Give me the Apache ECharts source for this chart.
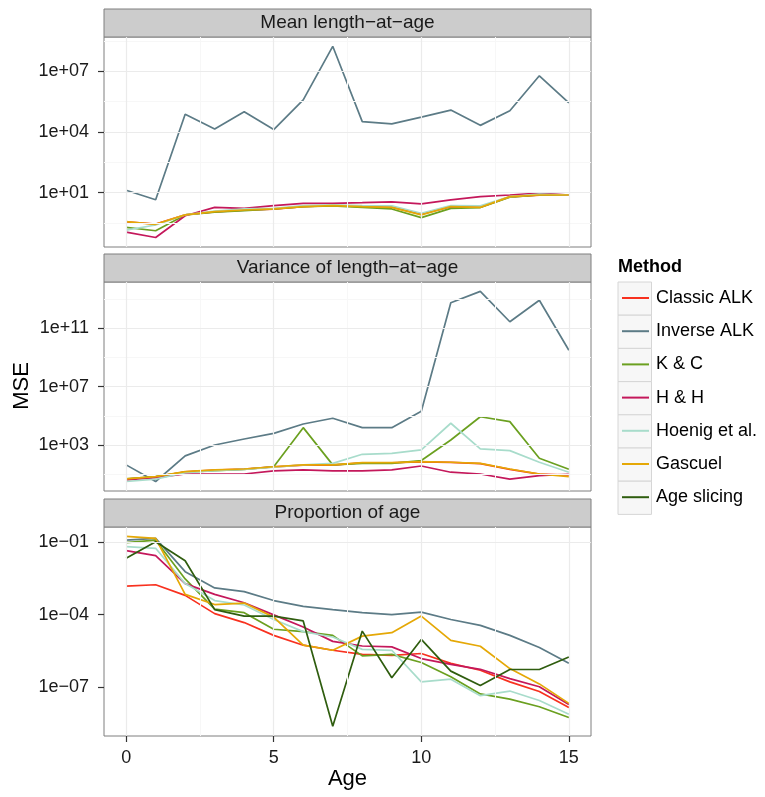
<!DOCTYPE html>
<html>
<head>
<meta charset="utf-8">
<script src="https://cdn.jsdelivr.net/npm/echarts@6/dist/echarts.min.js"></script>
<style>
  html, body { margin: 0; padding: 0; background: #fff; }
  #chart { width: 765px; height: 797px; }
</style>
</head>
<body>
<div id="chart"></div>
<script>
// ages on the x axis
var ages = [0, 1, 2, 3, 4, 5, 6, 7, 8, 9, 10, 11, 12, 13, 14, 15];
var methods = ["Classic ALK", "Inverse ALK", "K & C", "H & H", "Hoenig et al.", "Gascuel", "Age slicing"];
var colors = ["#F8311F", "#5C7B86", "#6BA020", "#C4185B", "#A8DCCB", "#E5A806", "#2F5D0F"];
var panels = ["Mean length\u2212at\u2212age", "Variance of length\u2212at\u2212age", "Proportion of age"];

// MSE, mean length-at-age
var meanClassic = [0.36, 0.28, 0.80, 1.1, 1.35, 1.5, 2.0, 2.3, 2.0, 1.9, 0.85, 2.0, 1.9, 6.2, 7.5, 7.6];
var meanInverse = [13, 4.4, 7.4e4, 1.4e4, 1.0e5, 1.3e4, 3.8e5, 1.7e8, 3.2e4, 2.5e4, 5.4e4, 1.2e5, 2.1e4, 1.1e5, 5.9e6, 2.7e5];
var meanKC = [0.19, 0.13, 0.79, 1.07, 1.29, 1.55, 2.04, 2.19, 1.86, 1.55, 0.58, 1.66, 1.82, 5.9, 7.6, 7.6];
var meanHH = [0.11, 0.060, 0.72, 1.86, 1.66, 2.29, 2.95, 2.95, 3.16, 3.47, 2.75, 4.37, 6.31, 7.6, 9.3, 7.6];
var meanHoenig = [0.14, 0.25, 0.79, 1.23, 1.55, 1.66, 2.29, 2.45, 2.29, 2.19, 0.95, 2.29, 2.19, 6.3, 8.3, 7.6];
var meanGascuel = [0.37, 0.27, 0.79, 1.15, 1.38, 1.55, 2.04, 2.29, 2.04, 1.86, 0.79, 2.04, 1.86, 6.3, 7.6, 7.6];

// MSE, variance of length-at-age
var varClassic = [4.5, 6.6, 14.5, 19, 22, 31, 42, 42, 60, 60, 70, 63, 52, 21, 10, 8.7];
var varInverse = [43, 3.1, 178, 1000, 2570, 6300, 2.75e4, 6.8e4, 1.55e4, 1.55e4, 2.1e5, 5.8e12, 3.5e13, 2.9e11, 8.7e12, 3.2e9];
var varKC = [4.7, 6.8, 13.5, 17.4, 21.4, 32, 1.55e4, 43, 55, 55, 85, 2200, 8.7e4, 4.0e4, 123, 21.4];
var varHH = [4.0, 5.8, 10.2, 10.2, 10.2, 16.6, 19.5, 16.6, 16.6, 19.5, 36, 13.5, 10.2, 4.5, 7.9, 9.8];
var varHoenig = [3.1, 4.5, 12.6, 17.4, 21.4, 29.5, 43, 55, 229, 269, 457, 3.1e4, 537, 407, 65, 13.5];
var varGascuel = [4.7, 6.8, 14.8, 19.5, 22.4, 32, 43, 43, 62, 62, 72, 65, 55, 22.4, 10.2, 6.8];

// MSE, proportion of age
var propClassic = [1.5e-3, 1.7e-3, 6.2e-4, 1.1e-4, 4.7e-5, 1.4e-5, 5.5e-6, 3.4e-6, 2.3e-6, 2.1e-6, 2.5e-6, 9.8e-7, 5.1e-7, 1.7e-7, 6.8e-8, 1.5e-8];
var propInverse = [0.117, 0.138, 5.9e-3, 1.26e-3, 8.9e-4, 3.8e-4, 2.2e-4, 1.6e-4, 1.2e-4, 1.0e-4, 1.26e-4, 6.3e-5, 3.6e-5, 1.4e-5, 4.4e-6, 1.0e-6];
var propKC = [0.093, 0.117, 2.95e-3, 1.7e-4, 1.2e-4, 2.5e-5, 2.0e-5, 1.4e-5, 2.0e-6, 2.3e-6, 1.07e-6, 2.75e-7, 5.4e-8, 3.3e-8, 1.6e-8, 5.8e-9];
var propHH = [0.043, 0.027, 1.9e-3, 6.8e-4, 3.1e-4, 9.8e-5, 3.1e-5, 7.9e-6, 5.1e-6, 4.7e-6, 1.55e-6, 8.9e-7, 5.6e-7, 2.3e-7, 1.07e-7, 2.0e-8];
var propHoenig = [0.063, 0.054, 1.9e-3, 3.8e-4, 2.5e-4, 6.3e-5, 2.0e-5, 1.2e-5, 3.7e-6, 3.4e-6, 1.7e-7, 2.2e-7, 4.6e-8, 7.1e-8, 2.9e-8, 7.9e-9];
var propGascuel = [0.166, 0.138, 6.8e-4, 2.6e-4, 3.0e-4, 7.9e-5, 5.5e-6, 3.4e-6, 1.3e-5, 1.8e-5, 8.7e-5, 8.7e-6, 5.0e-6, 6.0e-7, 1.4e-7, 2.2e-8];
var propSlicing = [0.021, 0.10, 0.0166, 1.6e-4, 8.7e-5, 8.7e-5, 5.5e-5, 2.5e-9, 2.1e-5, 2.5e-7, 9.5e-6, 4.7e-7, 1.2e-7, 5.5e-7, 5.5e-7, 1.8e-6];

// tick labels and grid breaks
var xTicks = [0, 5, 10, 15];
var xMinor = [2.5, 7.5, 12.5];
var yTicks = [[1e1, 1e4, 1e7], [1e3, 1e7, 1e11], [1e-7, 1e-4, 1e-1]];
var yMinor = [
  [Math.pow(10, -0.5), Math.pow(10, 2.5), Math.pow(10, 5.5), Math.pow(10, 8.5)],
  [10, 1e5, 1e9, 1e13],
  [Math.pow(10, -8.5), Math.pow(10, -5.5), Math.pow(10, -2.5)]
];
var yRange = [[-1.69, 8.69], [-0.16, 14.19], [-9.0, -0.39]];

var panelData = [
  [meanClassic, meanInverse, meanKC, meanHH, meanHoenig, meanGascuel, null],
  [varClassic, varInverse, varKC, varHH, varHoenig, varGascuel, null],
  [propClassic, propInverse, propKC, propHH, propHoenig, propGascuel, propSlicing]
];

var gridTops = [37, 282, 527];
var gridHeights = [210, 209, 209];
var font = "'Liberation Sans', Arial, sans-serif";

function fmtExp(v) {
  var e = Math.round(Math.log10(v));
  var s = e < 0 ? "\u2212" : "+";
  var a = Math.abs(e);
  return "1e" + s + (a < 10 ? "0" + a : a);
}

var chart = echarts.init(document.getElementById("chart"));

var grids = [], xAxes = [], yAxes = [], series = [], graphics = [];

panels.forEach(function (title, p) {
  grids.push({
    left: 104, right: 174, top: gridTops[p], height: gridHeights[p],
    show: true, borderColor: "#7f7f7f", borderWidth: 1, backgroundColor: "#fff"
  });
  var bottom = p === 2;
  xAxes.push({
    type: "value", gridIndex: p, min: -0.75, max: 15.75, position: "bottom",
    splitLine: { show: false },
    axisLine: { show: false, onZero: false },
    axisTick: { show: bottom, customValues: xTicks, length: 6, lineStyle: { color: "#333", width: 1.2 } },
    axisLabel: { show: bottom, customValues: xTicks, margin: 13, fontSize: 18, color: "#1a1a1a", fontFamily: font }
  });
  yAxes.push({
    type: "log", logBase: 10, gridIndex: p, position: "left",
    min: Math.pow(10, yRange[p][0]), max: Math.pow(10, yRange[p][1]),
    splitLine: { show: false },
    axisLine: { show: false, onZero: false },
    axisTick: { show: true, customValues: yTicks[p], length: 6, lineStyle: { color: "#333", width: 1.2 } },
    axisLabel: { customValues: yTicks[p], margin: 15, fontSize: 18, color: "#1a1a1a", fontFamily: font, formatter: fmtExp }
  });

  // grid lines, drawn under the data
  var lines = [];
  yMinor[p].forEach(function (v) { lines.push({ yAxis: v, lineStyle: { color: "#f7f7f7", width: 1 } }); });
  xMinor.forEach(function (v) { lines.push({ xAxis: v, lineStyle: { color: "#f7f7f7", width: 1 } }); });
  yTicks[p].forEach(function (v) { lines.push({ yAxis: v, lineStyle: { color: "#ebebeb", width: 1.2 } }); });
  xTicks.forEach(function (v) { lines.push({ xAxis: v, lineStyle: { color: "#ebebeb", width: 1.2 } }); });
  series.push({
    type: "line", xAxisIndex: p, yAxisIndex: p, z: 1, silent: true, data: [],
    markLine: { silent: true, symbol: "none", animation: false, label: { show: false }, lineStyle: { type: "solid" }, data: lines }
  });

  panelData[p].forEach(function (vals, m) {
    if (!vals) return;
    series.push({
      name: methods[m], type: "line", xAxisIndex: p, yAxisIndex: p,
      showSymbol: false, symbol: "none", animation: false,
      data: ages.map(function (a, i) { return [a, vals[i]]; }),
      lineStyle: { color: colors[m], width: 1.7 },
      itemStyle: { color: colors[m] }
    });
  });

  // facet strip
  graphics.push({
    type: "rect", shape: { x: 104, y: gridTops[p] - 28, width: 487, height: 28 },
    style: { fill: "#cccccc", stroke: "#7f7f7f", lineWidth: 1 }
  });
  graphics.push({
    type: "text", x: 347.5, y: gridTops[p] - 14,
    style: { text: title, font: "19px " + font, fill: "#1a1a1a", textAlign: "center", textVerticalAlign: "middle" }
  });
});

// legend key boxes
methods.forEach(function (m, i) {
  graphics.push({
    type: "rect", shape: { x: 618, y: 282 + i * 33.2, width: 33.5, height: 33.2 },
    style: { fill: "#f7f7f7", stroke: "#d6d6d6", lineWidth: 1 }, z: -1
  });
});
graphics.push({
  type: "text", x: 618, y: 267,
  style: { text: "Method", font: "bold 18px " + font, fill: "#000", textVerticalAlign: "middle" }
});
graphics.push({
  type: "text", x: 22, y: 386, rotation: Math.PI / 2,
  style: { text: "MSE", font: "22px " + font, fill: "#000", textAlign: "center", textVerticalAlign: "middle" }
});
graphics.push({
  type: "text", x: 347.5, y: 779,
  style: { text: "Age", font: "22px " + font, fill: "#000", textAlign: "center", textVerticalAlign: "middle" }
});

var option = {
  backgroundColor: "#fff",
  animation: false,
  grid: grids,
  xAxis: xAxes,
  yAxis: yAxes,
  legend: {
    data: methods, orient: "vertical", left: 622, top: 289, padding: 0,
    icon: "rect", itemWidth: 27, itemHeight: 2, itemGap: 15.2, selectedMode: false,
    textStyle: { fontSize: 18, lineHeight: 18, color: "#000", fontFamily: font, padding: [0, 0, 0, 2] }
  },
  graphic: graphics,
  series: series
};

chart.setOption(option);
</script>
</body>
</html>
